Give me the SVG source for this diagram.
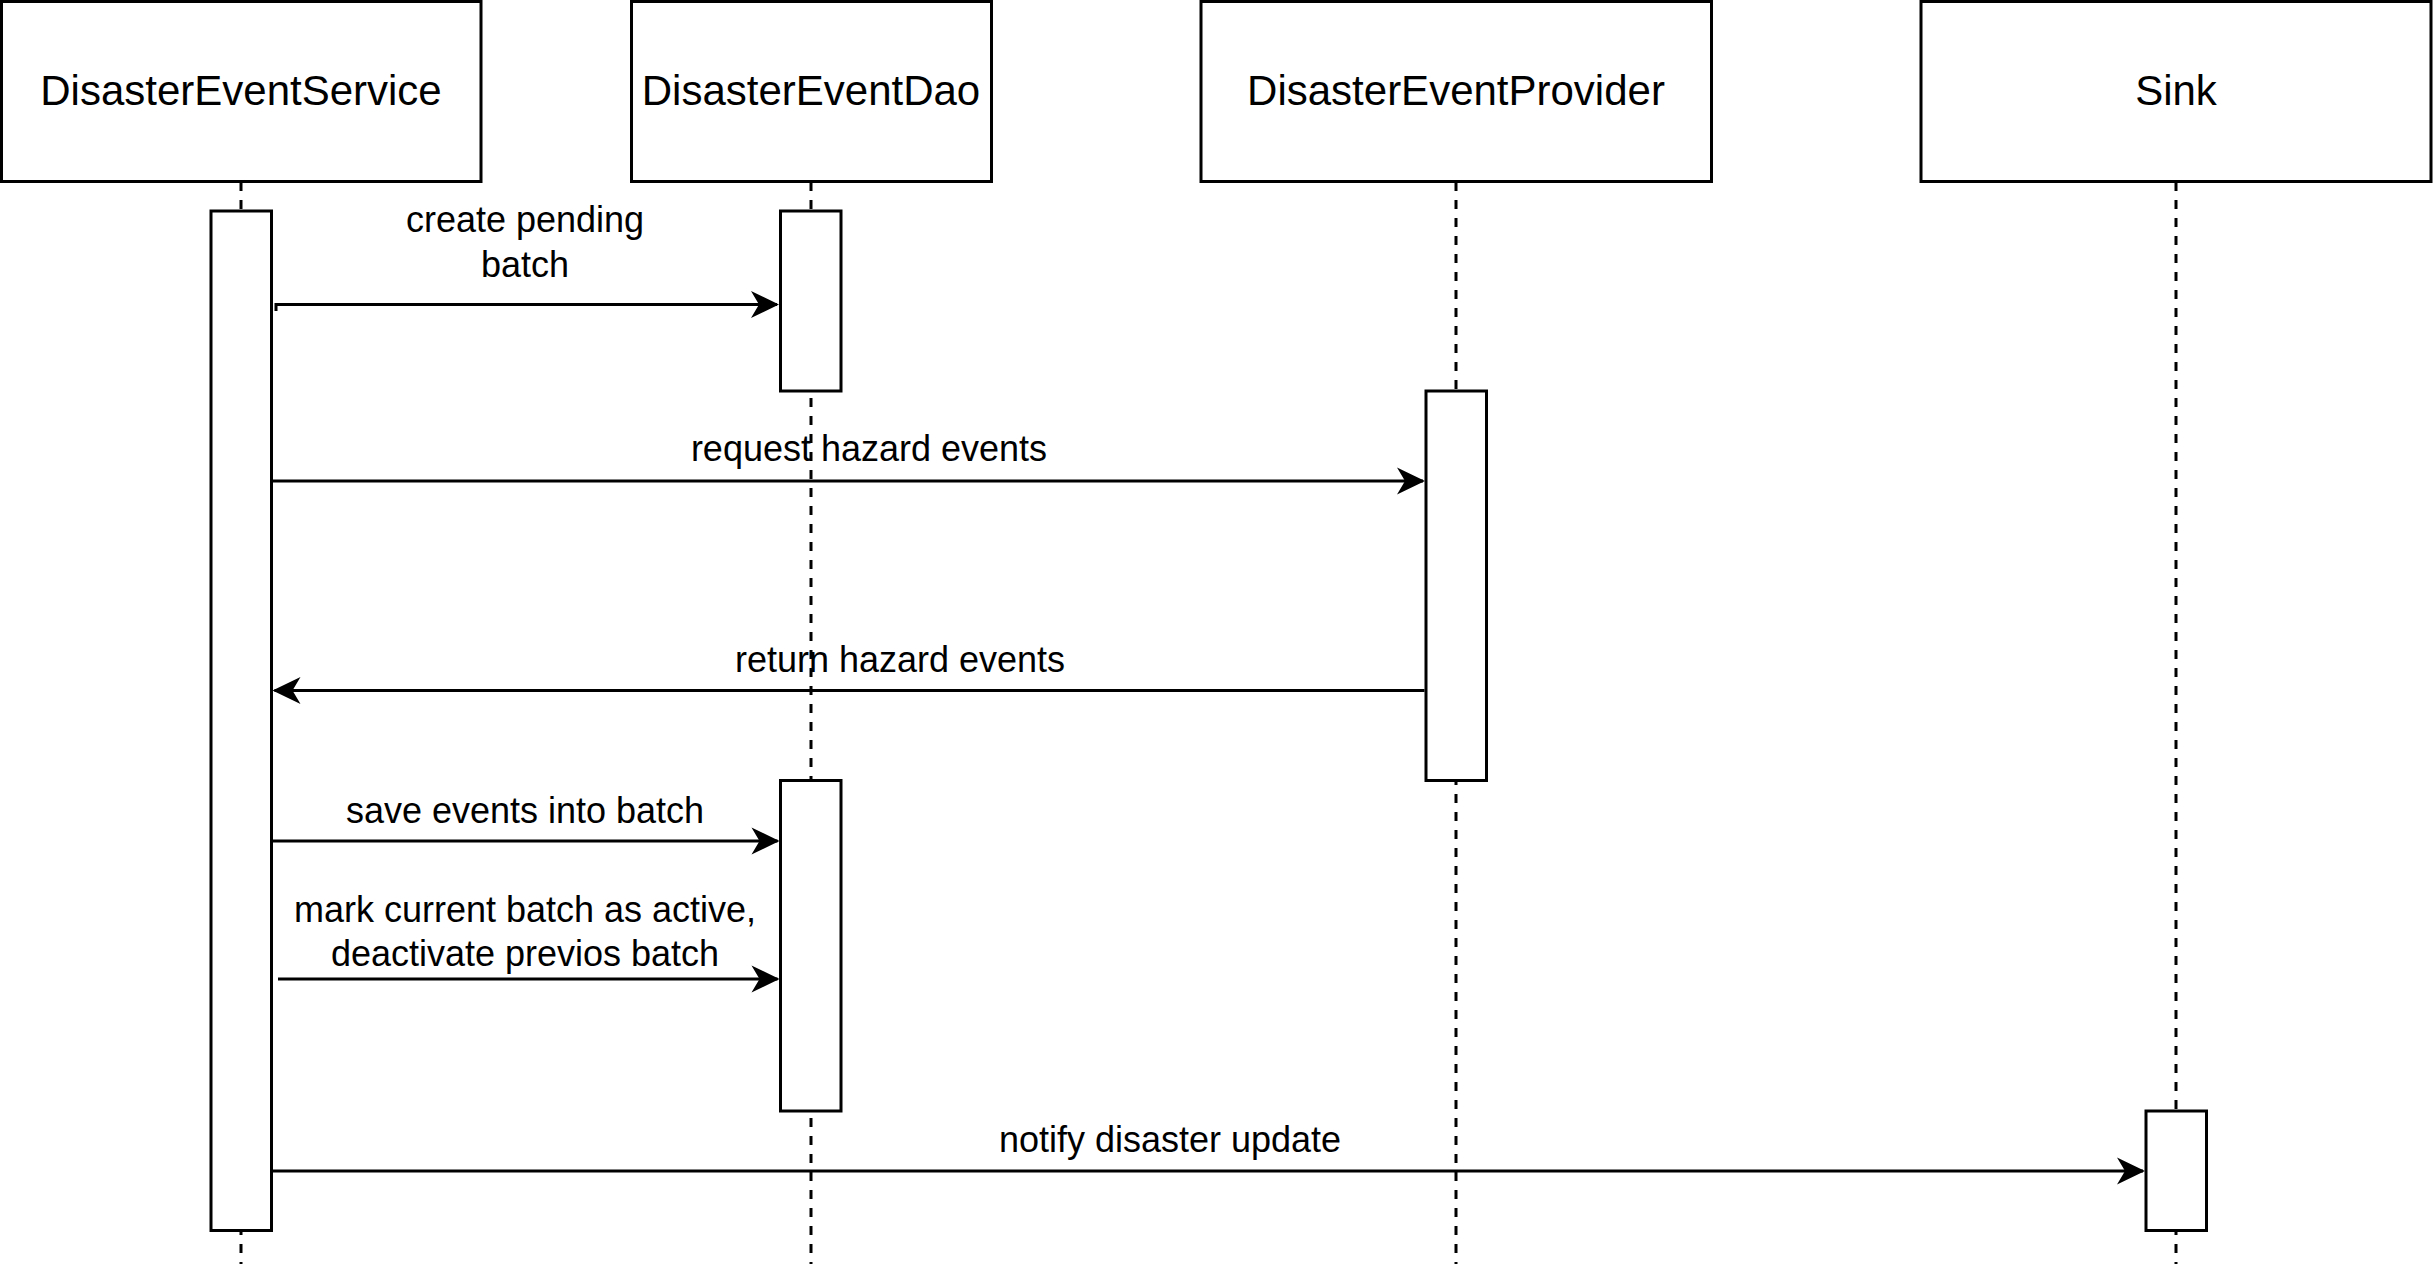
<svg xmlns="http://www.w3.org/2000/svg" width="2433" height="1266" viewBox="0 0 2433 1266">
<style>
.box{fill:#fff;stroke:#000;stroke-width:3}
.life{stroke:#000;stroke-width:3;stroke-dasharray:9 9;fill:none}
.msg{stroke:#000;stroke-width:3;fill:none;marker-end:url(#arr)}
.title{font-family:"Liberation Sans",Arial,sans-serif;font-size:42px;text-anchor:middle;fill:#000}
.lbl{font-family:"Liberation Sans",Arial,sans-serif;font-size:36px;text-anchor:middle;fill:#000}
</style>
<defs>
<marker id="arr" markerUnits="userSpaceOnUse" markerWidth="30" markerHeight="30" viewBox="-28 -15 30 30" refX="0" refY="0" orient="auto" overflow="visible">
<path d="M2,0 L-26,-13.5 L-18,0 L-26,13.5 Z" fill="#000"/>
</marker>
</defs>
<rect width="2433" height="1266" fill="#fff"/>
<g id="lifelines">
<line class="life" x1="241" y1="182" x2="241" y2="1264"/>
<line class="life" x1="811" y1="182" x2="811" y2="1264"/>
<line class="life" x1="1456" y1="182" x2="1456" y2="1264"/>
<line class="life" x1="2176" y1="182" x2="2176" y2="1264"/>
</g>
<g id="DisasterEventService">
<rect class="box" x="1.5" y="1.5" width="479.5" height="180"/>
<text class="title" x="241" y="105">DisasterEventService</text>
<rect class="box" x="211" y="211" width="60.5" height="1019.5"/>
</g>
<g id="DisasterEventDao">
<rect class="box" x="631.5" y="1.5" width="360" height="180"/>
<text class="title" x="811" y="105">DisasterEventDao</text>
<rect class="box" x="780.5" y="211" width="60.5" height="180"/>
<rect class="box" x="780.5" y="780.5" width="60.5" height="330.5"/>
</g>
<g id="DisasterEventProvider">
<rect class="box" x="1201" y="1.5" width="510.5" height="180"/>
<text class="title" x="1456" y="105">DisasterEventProvider</text>
<rect class="box" x="1426" y="391" width="60.5" height="389.5"/>
</g>
<g id="Sink">
<rect class="box" x="1921" y="1.5" width="510" height="180"/>
<text class="title" x="2176" y="105">Sink</text>
<rect class="box" x="2146" y="1111" width="60.5" height="119.5"/>
</g>
<g id="connectors">
<polyline class="msg" points="276,311 276,304.5 777,304.5"/>
<line class="msg" x1="273" y1="481" x2="1423" y2="481"/>
<line class="msg" x1="1424.5" y1="690.5" x2="274.5" y2="690.5"/>
<line class="msg" x1="273" y1="841" x2="777.5" y2="841"/>
<line class="msg" x1="278" y1="979" x2="777.5" y2="979"/>
<line class="msg" x1="273" y1="1171" x2="2143" y2="1171"/>
</g>
<g id="labels">
<text class="lbl" x="525" y="232">create pending</text>
<text class="lbl" x="525" y="277">batch</text>
<text class="lbl" x="869" y="461">request hazard events</text>
<text class="lbl" x="900" y="672">return hazard events</text>
<text class="lbl" x="525" y="823">save events into batch</text>
<text class="lbl" x="525" y="922">mark current batch as active,</text>
<text class="lbl" x="525" y="966">deactivate previos batch</text>
<text class="lbl" x="1170" y="1152">notify disaster update</text>
</g>
</svg>
